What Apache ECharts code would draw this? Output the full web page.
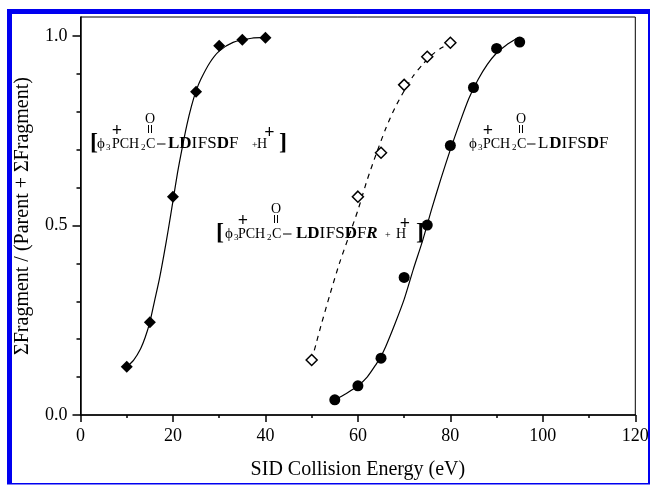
<!DOCTYPE html>
<html><head><meta charset="utf-8">
<style>html,body{margin:0;padding:0;background:#fff}#c{width:650px;height:485px}</style>
<script src="https://cdn.jsdelivr.net/npm/echarts@6/dist/echarts.min.js"></script>
</head><body><div id="c"></div>
<script>
const pointsDiamond = [[10,0.127],[15,0.245],[20,0.576],[25,0.853],[30,0.974],[35,0.990],[40,0.995]];
const pointsOpen = [[50,0.145],[60,0.576],[65,0.692],[70,0.871],[75,0.945],[80,0.982]];
const pointsCircle = [[55,0.040],[60,0.077],[65,0.150],[70,0.363],[75,0.501],[80,0.711],[85,0.864],[90,0.967],[95,0.984]];
const curveDiamond = [[10,0.127],[11.5,0.145],[13,0.175],[14,0.205],[15,0.245],[16,0.30],[17,0.355],[18,0.42],[19,0.49],[20,0.565],[21,0.64],[22,0.705],[23,0.765],[24,0.815],[25,0.855],[26,0.885],[28,0.93],[30,0.96],[33,0.983],[37,0.994],[40,0.996]];
const curveOpen = [[50,0.145],[51,0.19],[52,0.235],[54,0.32],[56,0.40],[58,0.47],[60,0.54],[61,0.58],[62,0.62],[64,0.69],[66,0.755],[68,0.81],[70,0.855],[72,0.895],[74,0.925],[76,0.95],[78,0.968],[80,0.982]];
const curveCircle = [[55,0.04],[57.5,0.057],[60,0.077],[62,0.10],[64,0.135],[65,0.155],[66,0.18],[68,0.24],[70,0.305],[72,0.385],[74,0.46],[76,0.545],[78,0.625],[80,0.70],[82,0.77],[84,0.835],[86,0.885],[88,0.925],[90,0.955],[92,0.975],[94.6,0.995]];
const yMajorTicks = [0, 0.5, 1.0];
const yMinorTicks = [0.1,0.2,0.3,0.4,0.6,0.7,0.8,0.9];
const xTitle = 'SID Collision Energy (eV)';
const yTitle = 'ΣFragment / (Parent + ΣFragment)';

const F = '"Liberation Serif", serif';
const chart = echarts.init(document.getElementById('c'), null, {renderer:'canvas'});
const g = [];
function rect(x,y,w,h){ g.push({type:'rect',silent:true,z:0,shape:{x,y,width:w,height:h},style:{fill:'#0000f0'}}); }
rect(7,9,643,5); rect(7,9,5,475); rect(7,483,643,1.5); rect(648,9,2,475);
function t(x,base,text,size,opt){ opt=opt||{};
  g.push({type:'text',silent:true,z:20,x,y:base-0.32*size,style:{text,fill:'#000',align:opt.align||'left',verticalAlign:'middle',
    font:(opt.italic?'italic ':'')+(opt.bold?'bold ':'')+size+'px '+F}});
}
function dbl(x,y){ [-1.5,1.5].forEach(d=>g.push({type:'line',silent:true,z:20,shape:{x1:x+d,y1:y-4,x2:x+d,y2:y+4},style:{stroke:'#000',lineWidth:1}})); }
function group(phiX,pX,base,dashX,seqX,boldL){
  t(phiX,base,'ϕ',15); t(phiX+9,base+2,'3',9);
  t(pX,base,'PCH',14);
  t(pX+29,base+2,'2',9);
  t(pX+34,base,'C',14);
  t(pX+5,base-12,'+',18,{bold:true,align:'center'});
  t(pX+38,base-25,'O',14,{align:'center'});
  dbl(pX+38,base-20);
  g.push({type:'rect',silent:true,z:20,shape:{x:dashX,y:base-5.5,width:8.5,height:1},style:{fill:'#000'}});
  let x=seqX;
  const parts=[['L',boldL,0.667],['D',true,0.722],['I',false,0.36],['F',false,0.556],['S',false,0.556],['D',true,0.722],['F',false,0.556]];
  parts.forEach(p=>{t(x,base,p[0],17,{bold:p[1]}); x+=p[2]*17;});
  return x;
}
group(97,112,149,157,168,true);
t(90,150,'[',24,{bold:true}); t(252,149,'+',10); t(257,149,'H',14); t(269.5,139,'+',18,{bold:true,align:'center'}); t(279,150,']',24,{bold:true});
const xe=group(225,238,239,283,296,true);
t(xe,239,'R',17,{bold:true,italic:true});
t(216,240,'[',24,{bold:true}); t(385,239,'+',10); t(396,239,'H',14); t(405,230,'+',18,{bold:true,align:'center'}); t(416,240,']',24,{bold:true});
group(469,483,149,527,538,false);

const lineS=(d,dash)=>({type:'line',data:d,smooth:0.25,showSymbol:false,silent:true,z:3,
  lineStyle:{color:'#000',width:1.2,type:dash?[5,5]:'solid'}});
const ptS=(d,sym,size,open)=>({type:'scatter',data:d,symbol:sym,symbolSize:size,silent:true,z:5,
  itemStyle:open?{color:'#fff',borderColor:'#000',borderWidth:1.5,opacity:1}:{color:'#000',opacity:1}});
chart.setOption({
  animation:false,backgroundColor:'#fff',
  grid:{left:80.5,right:14.7,top:17,height:398,outerBoundsMode:'none',show:true,borderColor:'#000',borderWidth:1,backgroundColor:'transparent'},
  xAxis:{type:'value',min:0,max:120,interval:20,splitLine:{show:false},
    name:xTitle,nameLocation:'middle',nameGap:45,nameTextStyle:{color:'#000',fontFamily:F,fontSize:20},
    axisLine:{lineStyle:{color:'#000',width:1.5}},
    axisTick:{length:7,inside:false,lineStyle:{color:'#000',width:1.5}},
    minorTick:{show:true,splitNumber:2,length:3,lineStyle:{color:'#000',width:1.5}},
    axisLabel:{margin:12,color:'#000',fontFamily:F,fontSize:18}},
  yAxis:[{type:'value',min:0,max:1.05,position:'left',splitLine:{show:false},
    name:yTitle,nameLocation:'middle',nameGap:48,nameTextStyle:{color:'#000',fontFamily:F,fontSize:20},
    axisLine:{show:true,lineStyle:{color:'#000',width:1.5}},
    axisTick:{show:true,length:8,customValues:yMajorTicks,lineStyle:{color:'#000',width:1.5}},
    axisLabel:{margin:13,color:'#000',fontFamily:F,fontSize:18,padding:[0,0,6,0],customValues:yMajorTicks,formatter:v=>v.toFixed(1)}},
   {type:'value',min:0,max:1.05,position:'left',offset:0,splitLine:{show:false},
    axisLine:{show:false},axisLabel:{show:false},
    axisTick:{show:true,length:4,customValues:yMinorTicks,lineStyle:{color:'#000',width:1.5}}}],
  series:[lineS(curveDiamond),lineS(curveOpen,true),lineS(curveCircle),
    ptS(pointsDiamond,'diamond',12),ptS(pointsOpen,'diamond',11,true),ptS(pointsCircle,'circle',11)],
  graphic:g
});
</script></body></html>
